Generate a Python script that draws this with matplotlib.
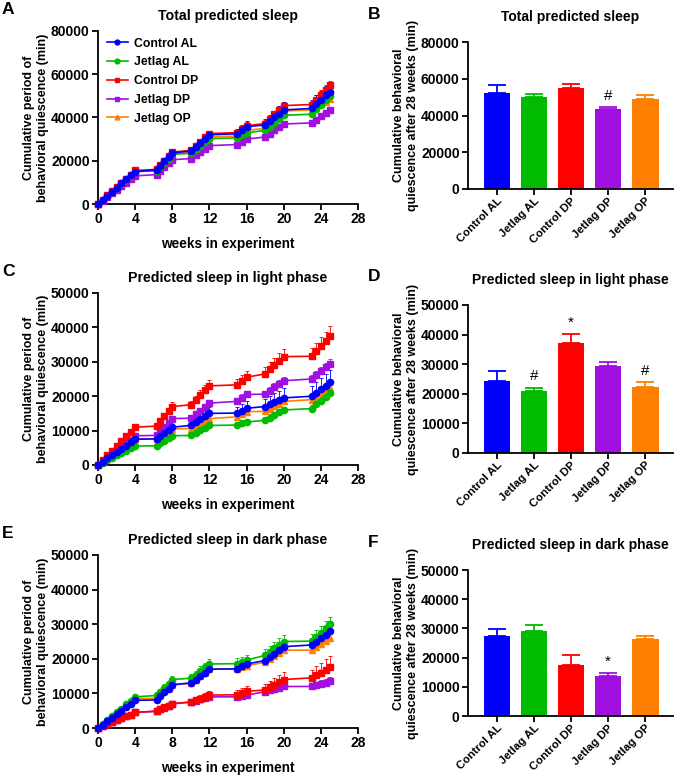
import matplotlib
matplotlib.use('Agg')
import matplotlib.pyplot as plt
from matplotlib.lines import Line2D
import numpy as np

plt.rcParams['font.family'] = ['Liberation Sans', 'DejaVu Sans']
plt.rcParams['font.weight'] = 'bold'
plt.rcParams['font.size'] = 9.5

GROUPS = ['Control AL', 'Jetlag AL', 'Control DP', 'Jetlag DP', 'Jetlag OP']
COLORS = ['#0000ff', '#00bb00', '#ff0000', '#a010e0', '#ff8000']
MARKERS = ['o', 'o', 's', 's', '^']

# weeks at which quiescence was measured (gaps = no recording)
weeks = [0, 0.5, 1, 1.5, 2, 2.5, 3, 3.5, 4,
         6.3, 6.7, 7.1, 7.6, 8,
         10, 10.5, 11, 11.5, 12,
         15, 15.5, 16,
         18, 18.5, 19, 19.5, 20,
         23, 23.5, 24, 24.5, 25]

# --- total predicted sleep (x1000 min) ---
a_ctrl_al = [0, 1.9, 3.8, 5.7, 7.6, 9.5, 11.4, 13.2, 15.0, 15.8, 17.8, 19.8, 21.8, 23.6,
             24.5, 26.4, 28.3, 30.2, 32.0, 32.5, 34.2, 35.8, 36.5, 38.3, 40.0, 41.8, 43.5,
             44.2, 46.2, 48.2, 50.2, 52.0]
a_jet_al = [0, 1.9, 3.8, 5.6, 7.5, 9.4, 11.3, 13.1, 15.0, 15.3, 17.2, 19.1, 21.0, 23.0,
            23.4, 25.1, 26.8, 28.5, 30.2, 30.6, 31.8, 33.0, 34.0, 35.8, 37.6, 39.4, 41.0,
            41.5, 43.7, 45.9, 48.0, 50.0]
a_ctrl_dp = [0, 2.0, 4.0, 5.9, 7.8, 9.7, 11.6, 13.6, 15.5, 16.0, 18.0, 20.0, 22.0, 24.0,
             24.8, 26.8, 28.8, 30.8, 32.6, 33.0, 34.6, 36.2, 37.2, 39.3, 41.4, 43.5, 45.5,
             46.0, 48.3, 50.6, 52.8, 55.0]
a_jet_dp = [0, 1.6, 3.3, 4.9, 6.5, 8.1, 9.7, 11.4, 13.0, 13.6, 15.4, 17.1, 18.8, 20.5,
            21.0, 22.5, 24.0, 25.5, 27.0, 27.5, 28.8, 30.0, 31.0, 32.6, 34.2, 35.7, 37.0,
            37.5, 39.0, 40.5, 42.0, 43.5]
a_jet_op = [0, 1.9, 3.8, 5.6, 7.5, 9.4, 11.3, 13.1, 15.0, 15.5, 17.4, 19.2, 21.1, 23.0,
            23.8, 25.6, 27.4, 29.2, 31.0, 31.4, 32.7, 34.0, 35.0, 37.0, 39.0, 41.0, 43.0,
            43.5, 44.8, 46.1, 47.3, 48.5]
a_ctrl_al_sem = [0, .2, .3, .4, .5, .6, .7, .8, .9, 1.0, 1.1, 1.2, 1.3, 1.4, 1.5, 1.6, 1.7, 1.8,
                 1.9, 2.1, 2.3, 2.5, 2.8, 3.0, 3.2, 3.4, 3.6, 3.8, 4.0, 4.2, 4.4, 4.5]
a_jet_al_sem = [0, .1, .2, .2, .3, .3, .4, .4, .5, .5, .6, .6, .7, .7, .8, .8, .9, .9,
                1.0, 1.0, 1.1, 1.1, 1.2, 1.2, 1.3, 1.3, 1.4, 1.4, 1.4, 1.5, 1.5, 1.5]
a_ctrl_dp_sem = [0, .1, .2, .3, .4, .5, .6, .7, .8, .8, .9, 1.0, 1.0, 1.1, 1.1, 1.2, 1.2, 1.3,
                 1.3, 1.4, 1.4, 1.5, 1.6, 1.6, 1.7, 1.7, 1.8, 1.8, 1.9, 1.9, 2.0, 2.0]
a_jet_dp_sem = [0, .1, .1, .2, .2, .3, .3, .4, .4, .4, .5, .5, .5, .6, .6, .6, .7, .7,
                .7, .7, .8, .8, .8, .8, .9, .9, .9, .9, 1.0, 1.0, 1.0, 1.0]
a_jet_op_sem = [0, .1, .2, .3, .4, .5, .6, .7, .8, .8, .9, 1.0, 1.0, 1.1, 1.1, 1.2, 1.3, 1.3,
                1.4, 1.4, 1.5, 1.5, 1.6, 1.7, 1.8, 1.8, 1.9, 1.9, 2.0, 2.1, 2.1, 2.2]

# --- light phase (x1000 min) ---
c_ctrl_al = [0, .9, 1.9, 2.8, 3.8, 4.7, 5.6, 6.6, 7.5, 7.6, 8.5, 9.3, 10.2, 11.0,
             11.5, 12.4, 13.3, 14.1, 15.0, 15.1, 15.8, 16.5, 17.0, 17.6, 18.3, 18.9, 19.5,
             20.0, 21.0, 22.0, 23.0, 24.0]
c_jet_al = [0, .7, 1.4, 2.1, 2.8, 3.4, 4.1, 4.8, 5.5, 5.6, 6.3, 7.1, 7.8, 8.5,
            8.6, 9.3, 10.1, 10.8, 11.5, 11.6, 12.1, 12.5, 13.0, 13.8, 14.5, 15.3, 16.0,
            16.4, 17.6, 18.7, 19.9, 21.0]
c_ctrl_dp = [0, 1.4, 2.8, 4.1, 5.5, 6.9, 8.3, 9.6, 11.0, 11.3, 12.8, 14.2, 15.6, 17.0,
             17.5, 18.9, 20.3, 21.7, 23.0, 23.3, 24.4, 25.5, 26.5, 27.8, 29.0, 30.3, 31.5,
             31.6, 33.1, 34.6, 36.1, 37.5]
c_jet_dp = [0, 1.1, 2.1, 3.2, 4.3, 5.3, 6.4, 7.4, 8.5, 8.6, 9.8, 11.0, 12.3, 13.5,
            13.6, 14.7, 15.8, 16.9, 18.0, 18.5, 19.5, 20.5, 20.6, 21.6, 22.6, 23.6, 24.5,
            25.0, 26.1, 27.2, 28.4, 29.5]
c_jet_op = [0, .9, 1.9, 2.8, 3.8, 4.7, 5.6, 6.6, 7.5, 7.6, 8.3, 9.1, 9.8, 10.5,
            10.6, 11.4, 12.1, 12.8, 13.5, 14.0, 14.8, 15.5, 15.6, 16.3, 17.1, 17.8, 18.5,
            19.0, 19.9, 20.8, 21.6, 22.5]
c_ctrl_al_sem = [0, .1, .2, .2, .3, .3, .4, .5, .6, .7, .8, .9, .9, 1.0, 1.2, 1.3, 1.5, 1.6,
                 1.8, 1.8, 2.0, 2.2, 2.3, 2.4, 2.6, 2.7, 2.8, 3.0, 3.2, 3.3, 3.5, 3.6]
c_jet_al_sem = [0, .1, .1, .2, .2, .3, .3, .3, .4, .4, .4, .5, .5, .6, .6, .6, .7, .7,
                .8, .8, .8, .9, .9, .9, 1.0, 1.0, 1.0, 1.1, 1.1, 1.1, 1.2, 1.2]
c_ctrl_dp_sem = [0, .1, .2, .3, .4, .5, .6, .7, .8, .8, .9, 1.0, 1.1, 1.2, 1.2, 1.3, 1.4, 1.5,
                 1.6, 1.6, 1.7, 1.8, 1.9, 2.0, 2.1, 2.2, 2.3, 2.3, 2.4, 2.5, 2.6, 2.8]
c_jet_dp_sem = [0, .1, .1, .2, .2, .3, .3, .4, .4, .5, .5, .6, .6, .7, .7, .8, .8, .9,
                .9, .9, 1.0, 1.0, 1.0, 1.1, 1.1, 1.1, 1.2, 1.2, 1.2, 1.3, 1.3, 1.3]
c_jet_op_sem = [0, .1, .1, .2, .2, .3, .3, .4, .4, .5, .5, .6, .6, .7, .7, .8, .8, .9,
                .9, 1.0, 1.0, 1.1, 1.1, 1.2, 1.2, 1.3, 1.3, 1.3, 1.4, 1.4, 1.5, 1.5]

# --- dark phase (x1000 min) ---
e_ctrl_al = [0, 1.0, 2.0, 3.0, 4.0, 5.0, 6.0, 7.0, 8.0, 8.1, 9.2, 10.3, 11.4, 12.5,
             13.0, 14.0, 15.0, 16.0, 17.0, 17.1, 17.8, 18.5, 19.5, 20.5, 21.5, 22.5, 23.5,
             24.0, 25.0, 26.0, 27.0, 28.0]
e_jet_al = [0, 1.1, 2.3, 3.4, 4.5, 5.6, 6.8, 7.9, 9.0, 9.4, 10.5, 11.7, 12.8, 14.0,
            14.4, 15.4, 16.5, 17.5, 18.5, 18.6, 19.1, 19.6, 21.0, 22.0, 23.0, 24.0, 25.0,
            25.1, 26.3, 27.5, 28.8, 30.0]
e_ctrl_dp = [0, .6, 1.1, 1.7, 2.3, 2.8, 3.4, 3.9, 4.5, 4.9, 5.4, 6.0, 6.5, 7.0,
             7.5, 8.0, 8.5, 9.0, 9.5, 9.6, 10.1, 10.6, 11.0, 11.8, 12.5, 13.3, 14.0,
             14.5, 15.3, 16.0, 16.8, 17.5]
e_jet_dp = [0, .6, 1.1, 1.7, 2.3, 2.8, 3.4, 3.9, 4.5, 4.8, 5.4, 5.9, 6.5, 7.0,
            7.5, 7.9, 8.3, 8.7, 9.0, 9.0, 9.3, 9.5, 10.5, 10.9, 11.3, 11.6, 12.0,
            12.0, 12.4, 12.8, 13.1, 13.5]
e_jet_op = [0, 1.1, 2.1, 3.2, 4.3, 5.3, 6.4, 7.4, 8.5, 8.6, 9.6, 10.6, 11.5, 12.5,
            13.0, 14.0, 15.0, 16.0, 17.0, 17.1, 17.6, 18.0, 19.0, 19.9, 20.8, 21.6, 22.5,
            22.5, 23.4, 24.3, 25.1, 26.0]
e_ctrl_al_sem = [0, .1, .2, .3, .3, .4, .5, .5, .6, .7, .8, .8, .9, 1.0, 1.1, 1.2, 1.2, 1.3,
                 1.4, 1.5, 1.6, 1.6, 1.7, 1.8, 1.8, 1.9, 2.0, 2.0, 2.1, 2.1, 2.2, 2.2]
e_jet_al_sem = [0, .1, .2, .3, .4, .4, .5, .6, .6, .7, .8, .9, .9, 1.0, 1.1, 1.2, 1.3, 1.3,
                1.4, 1.5, 1.5, 1.6, 1.7, 1.8, 1.9, 1.9, 2.0, 2.0, 2.1, 2.1, 2.2, 2.2]
e_ctrl_dp_sem = [0, .1, .1, .2, .2, .3, .3, .4, .5, .6, .7, .7, .8, .9, 1.0, 1.0, 1.1, 1.2,
                 1.3, 1.4, 1.5, 1.6, 1.7, 1.8, 1.9, 2.0, 2.1, 2.3, 2.6, 2.9, 3.2, 3.4]
e_jet_dp_sem = [0, .1, .1, .1, .2, .2, .2, .3, .3, .3, .4, .4, .4, .5, .5, .5, .6, .6,
                .6, .7, .7, .7, .8, .8, .9, .9, 1.0, 1.0, 1.0, 1.1, 1.1, 1.2]
e_jet_op_sem = [0, .1, .1, .2, .2, .3, .3, .3, .4, .4, .4, .5, .5, .6, .6, .7, .7, .7,
                .8, .8, .8, .9, .9, 1.0, 1.0, 1.0, 1.1, 1.1, 1.1, 1.2, 1.2, 1.2]

# --- totals after 28 weeks (x1000 min) ---
b_mean = [52.0, 50.0, 55.0, 43.5, 49.0]
b_sem = [4.5, 1.5, 2.0, 1.0, 2.2]
b_marks = ['', '', '', '#', '']
d_mean = [24.2, 20.8, 37.3, 29.5, 22.4]
d_sem = [3.6, 1.2, 2.8, 1.3, 1.5]
d_marks = ['', '#', '*', '', '#']
f_mean = [27.5, 29.0, 17.6, 13.6, 26.3]
f_sem = [2.2, 2.2, 3.4, 1.2, 1.2]
f_marks = ['', '', '', '*', '']

W, H = 675, 775


def box(left, top, right, bottom):
    return [left / W, 1 - bottom / H, (right - left) / W, (bottom - top) / H]


def style(ax, xsize=10, xpad=2):
    for s in ['top', 'right']:
        ax.spines[s].set_visible(False)
    for s in ['left', 'bottom']:
        ax.spines[s].set_linewidth(1.3)
    ax.tick_params(width=1.3, length=4, pad=2, labelsize=10)
    ax.tick_params(axis='x', labelsize=xsize, pad=xpad)
    for lab in ax.get_xticklabels() + ax.get_yticklabels():
        lab.set_fontweight('bold')


def line_panel(ax, series, sems, ymax, ystep, title, letter):
    x = np.array(weeks)
    order = [4, 3, 1, 2, 0]
    for i in order:
        y = np.array(series[i]) * 1000
        e = np.array(sems[i]) * 1000
        ax.errorbar(x, y, yerr=[np.zeros_like(e), e], color=COLORS[i], marker=MARKERS[i],
                    ms=4.5, lw=1.2, elinewidth=0.6, capsize=1.5, capthick=0.6,
                    clip_on=False, zorder=3)
    ax.set_xlim(0, 28)
    ax.set_ylim(0, ymax)
    ax.set_xticks(range(0, 29, 4))
    ax.set_yticks(range(0, ymax + 1, ystep))
    ax.set_title(title, fontsize=10.2, fontweight='bold', pad=8)
    ax.set_xlabel('weeks in experiment', fontsize=9.8, fontweight='bold', labelpad=8)
    ax.set_ylabel('Cumulative period of\nbehavioral quiescence (min)', fontsize=9,
                  fontweight='bold', labelpad=1.5)
    ax.text(-0.37, 1.17, letter, transform=ax.transAxes, fontsize=12.5, fontweight='bold',
            ha='left', va='top')
    style(ax)


def bar_panel(ax, means, sems, marks, ymax, ystep, title, letter):
    pos = np.arange(len(GROUPS))
    m = np.array(means) * 1000
    e = np.array(sems) * 1000
    ax.bar(pos, m, width=0.72, color=COLORS, zorder=2)
    for i in range(len(GROUPS)):
        ax.errorbar(pos[i], m[i], yerr=[[0], [e[i]]], color=COLORS[i], elinewidth=1.3,
                    capsize=6.5, capthick=1.3, zorder=1)
        if marks[i]:
            ax.text(pos[i], m[i] + e[i] + ymax * 0.03, marks[i], ha='center', va='bottom',
                    fontsize=11, fontweight='normal')
    ax.set_xlim(-0.78, 4.75)
    ax.set_ylim(0, ymax)
    ax.set_yticks(range(0, ymax + 1, ystep))
    ax.set_xticks(pos)
    ax.set_xticklabels(GROUPS, rotation=45, ha='right', rotation_mode='anchor')
    ax.set_title(title, fontsize=10, fontweight='bold', pad=15)
    ax.set_ylabel('Cumulative behavioral\nquiescence after 28 weeks (min)', fontsize=9,
                  fontweight='bold', labelpad=1.5)
    ax.text(-0.49, 1.24, letter, transform=ax.transAxes, fontsize=12.5, fontweight='bold',
            ha='left', va='top')
    style(ax, xsize=8.2, xpad=1)


fig = plt.figure(figsize=(6.75, 7.75), dpi=100)

ax_a = fig.add_axes(box(98, 31, 358, 204))
ax_b = fig.add_axes(box(468, 42, 673, 189))
ax_c = fig.add_axes(box(98, 293, 358, 465))
ax_d = fig.add_axes(box(468, 305, 673, 453))
ax_e = fig.add_axes(box(98, 555, 358, 728))
ax_f = fig.add_axes(box(468, 570, 673, 716))

line_panel(ax_a, [a_ctrl_al, a_jet_al, a_ctrl_dp, a_jet_dp, a_jet_op],
           [a_ctrl_al_sem, a_jet_al_sem, a_ctrl_dp_sem, a_jet_dp_sem, a_jet_op_sem],
           80000, 20000, 'Total predicted sleep', 'A')
line_panel(ax_c, [c_ctrl_al, c_jet_al, c_ctrl_dp, c_jet_dp, c_jet_op],
           [c_ctrl_al_sem, c_jet_al_sem, c_ctrl_dp_sem, c_jet_dp_sem, c_jet_op_sem],
           50000, 10000, 'Predicted sleep in light phase', 'C')
line_panel(ax_e, [e_ctrl_al, e_jet_al, e_ctrl_dp, e_jet_dp, e_jet_op],
           [e_ctrl_al_sem, e_jet_al_sem, e_ctrl_dp_sem, e_jet_dp_sem, e_jet_op_sem],
           50000, 10000, 'Predicted sleep in dark phase', 'E')

handles = [Line2D([0], [0], color=COLORS[i], marker=MARKERS[i], ms=3.5, lw=1.2)
           for i in range(len(GROUPS))]
ax_a.legend(handles, GROUPS, loc='upper left', bbox_to_anchor=(0.015, 0.99), frameon=False,
            borderaxespad=0, prop={'weight': 'bold', 'size': 8.8}, handlelength=1.7,
            labelspacing=0.55, handletextpad=0.5)

bar_panel(ax_b, b_mean, b_sem, b_marks, 80000, 20000, 'Total predicted sleep', 'B')
bar_panel(ax_d, d_mean, d_sem, d_marks, 50000, 10000, 'Predicted sleep in light phase', 'D')
bar_panel(ax_f, f_mean, f_sem, f_marks, 50000, 10000, 'Predicted sleep in dark phase', 'F')

fig.savefig('out.png', dpi=100)
